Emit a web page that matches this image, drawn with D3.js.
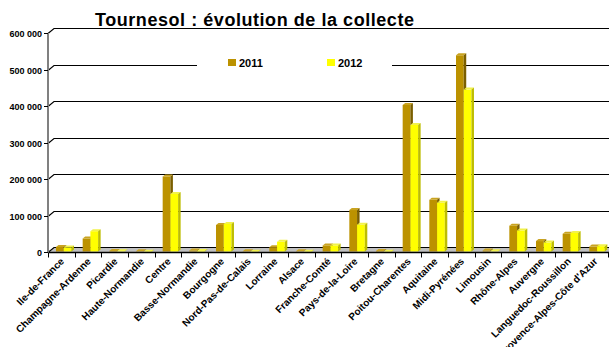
<!DOCTYPE html>
<html><head><meta charset="utf-8">
<script src="https://cdn.jsdelivr.net/npm/d3@7"></script>
<style>html,body{margin:0;padding:0;background:#fff;}svg{display:block;}</style>
</head><body>
<svg id="c" width="609" height="347"></svg>
<script>
const categories = ["Ile-de-France","Champagne-Ardenne","Picardie","Haute-Normandie","Centre","Basse-Normandie","Bourgogne","Nord-Pas-de-Calais","Lorraine","Alsace","Franche-Comté","Pays-de-la-Loire","Bretagne","Poitou-Charentes","Aquitaine","Midi-Pyrénées","Limousin","Rhône-Alpes","Auvergne","Languedoc-Roussillon","Provence-Alpes-Côte d'Azur"];
const v2011 = [14000, 37000, 3000, 2000, 207000, 4000, 74000, 2000, 13000, 2000, 18000, 115000, 3000, 403000, 143000, 539000, 4000, 72000, 30000, 50000, 15000];
const v2012 = [12000, 57000, 2000, 1000, 159000, 3000, 77000, 1000, 28000, 1000, 18000, 75000, 1000, 348000, 135000, 445000, 2000, 59000, 26000, 52000, 16000];
const seriesNames = ["2011", "2012"];
const yTicks = [0, 100000, 200000, 300000, 400000, 500000, 600000];
const title = "Tournesol : évolution de la collecte";

const W = 609, H = 347;
const svg = d3.select("#c");
const font = "'Liberation Sans', Arial, sans-serif";
const x0 = 48, x1 = 608;
const DX = 6, DY = -5;          // back-wall depth offset
const bdx = 2.5, bdy = -2;      // bar depth
const y = d3.scaleLinear().domain([0, 600000]).range([252, 33]);
const x = d3.scaleBand().domain(categories).range([x0, x1]).paddingInner(0).paddingOuter(0);
const xs = d3.scaleBand().domain(seriesNames).range([0.30, 0.88]);
const fmt = v => d3.format(",")(v).replace(/,/g, " ");

const colors = {
  "2011": {front: "#BC9200", top: "#C9A320", side: "#7A5E00"},
  "2012": {front: "#FFFF00", top: "#F2F24A", side: "#BDBD00"}
};

// back wall gridlines
const g = svg.append("g");
yTicks.forEach(t => {
  if (t === 0) return;
  const yy = Math.round(y(t)) + 0.5;
  g.append("path")
    .attr("d", `M${x0},${yy} L${x0 + DX},${yy + DY} L${W},${yy + DY}`)
    .attr("fill", "none").attr("stroke", "#000").attr("stroke-width", 1.2);
});

// floor
const yb = Math.round(y(0)) + 0.5;
g.append("path")
  .attr("d", `M${x0},${yb} L${x0 + DX},${yb + DY} L${W},${yb + DY} L${W},${yb} Z`)
  .attr("fill", "#C0C0C0").attr("stroke", "none");
g.append("path")
  .attr("d", `M${x0},${yb} L${x0 + DX},${yb + DY} L${W},${yb + DY}`)
  .attr("fill", "none").attr("stroke", "#000").attr("stroke-width", 1.2);

// legend box (white, hides gridline)
svg.append("rect").attr("x", 197).attr("y", 48).attr("width", 195).attr("height", 30).attr("fill", "#fff");

// bars
const bars = svg.append("g");
categories.forEach((c, i) => {
  seriesNames.forEach((s, k) => {
    const v = (s === "2011" ? v2011 : v2012)[i];
    const bw = xs.bandwidth() * x.bandwidth();
    const bx = x(c) + xs(s) * x.bandwidth();
    const top = y(v), bot = y(0) - 0.5;
    const col = colors[s];
    const gg = bars.append("g");
    gg.append("rect").attr("x", bx).attr("y", top).attr("width", bw).attr("height", Math.max(0, bot - top)).attr("fill", col.front);
    gg.append("path").attr("d", `M${bx},${top} L${bx + bdx},${top + bdy} L${bx + bw + bdx},${top + bdy} L${bx + bw},${top} Z`).attr("fill", col.top);
    gg.append("path").attr("d", `M${bx + bw},${top} L${bx + bw + bdx},${top + bdy} L${bx + bw + bdx},${bot + bdy} L${bx + bw},${bot} Z`).attr("fill", col.side);
  });
});

// x axis
const ax = svg.append("g");
ax.append("line").attr("x1", x0).attr("x2", W).attr("y1", yb).attr("y2", yb).attr("stroke", "#000").attr("stroke-width", 1.3);
d3.range(categories.length + 1).forEach(i => {
  const xx = Math.round(x0 + i * x.bandwidth()) + 0.5;
  ax.append("line").attr("x1", xx).attr("x2", xx).attr("y1", yb).attr("y2", yb + 5).attr("stroke", "#000");
});
categories.forEach(c => {
  const cx = x(c) + x.bandwidth() / 2;
  ax.append("text")
    .attr("transform", `translate(${cx + 1},${yb + 7}) rotate(-45)`)
    .attr("text-anchor", "end").attr("dy", "0.35em")
    .attr("font-family", font).attr("font-weight", "bold").attr("font-size", "10px")
    .attr("fill", "#000").text(c);
});

// y axis
const ay = svg.append("g");
ay.append("line").attr("x1", x0).attr("x2", x0).attr("y1", y(600000)).attr("y2", yb).attr("stroke", "#808080").attr("stroke-width", 2);
yTicks.forEach(t => {
  const yy = Math.round(y(t)) + 0.5;
  ay.append("line").attr("x1", x0 - 4).attr("x2", x0).attr("y1", yy).attr("y2", yy).attr("stroke", "#000");
  ay.append("text").attr("x", x0 - 6).attr("y", yy).attr("dy", "0.35em")
    .attr("text-anchor", "end").attr("font-family", font).attr("font-weight", "bold").attr("font-size", "9px")
    .attr("fill", "#000").text(fmt(t));
});

// title
svg.append("text").attr("x", 95).attr("y", 26)
  .attr("font-family", font).attr("font-weight", "bold").attr("font-size", "18px")
  .attr("letter-spacing", "0.55px")
  .attr("fill", "#000").text(title);

// legend
const lg = svg.append("g");
const legPos = [{x: 228}, {x: 327}];
seriesNames.forEach((s, k) => {
  lg.append("rect").attr("x", legPos[k].x).attr("y", 59).attr("width", 8).attr("height", 7).attr("fill", colors[s].front);
  lg.append("text").attr("x", legPos[k].x + 11).attr("y", 66.5)
    .attr("font-family", font).attr("font-weight", "bold").attr("font-size", "11px")
    .attr("fill", "#000").text(s);
});
</script>
</body></html>
